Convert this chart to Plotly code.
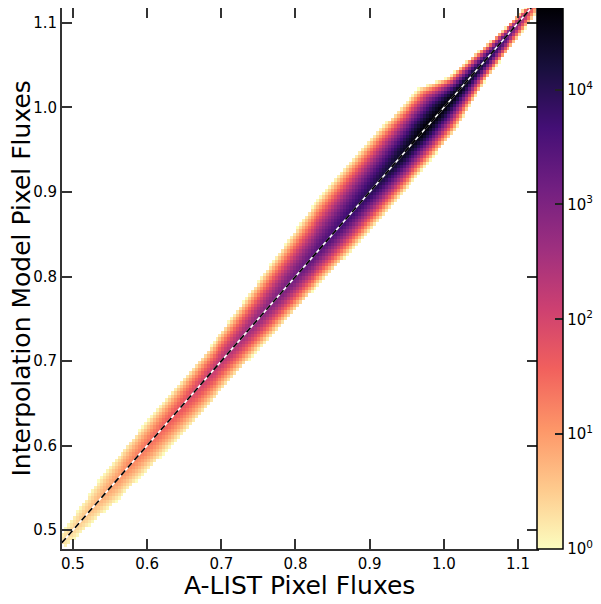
import numpy as np
import plotly.graph_objects as go

# anchors read along the 1:1 line (A-LIST flux)
diag_t = [0.485, 0.52, 0.55, 0.60, 0.65, 0.70, 0.75, 0.80, 0.85, 0.90, 0.94, 0.97, 0.995, 1.02, 1.045, 1.065, 1.09, 1.11, 1.125]
# log10 of the peak count on the ridge
peak_log = [0.3, 0.6, 0.9, 1.4, 1.8, 2.3, 2.8, 3.2, 3.6, 4.0, 4.4, 4.7, 4.7, 4.6, 4.3, 4.0, 3.4, 2.4, 1.2]
# half widths (model - A-LIST) where the count falls to 1
width_up = [0.010, 0.018, 0.025, 0.028, 0.030, 0.032, 0.040, 0.050, 0.060, 0.062, 0.062, 0.058, 0.056, 0.030, 0.024, 0.018, 0.012, 0.009, 0.006]
width_dn = [0.010, 0.018, 0.025, 0.032, 0.035, 0.035, 0.038, 0.040, 0.045, 0.046, 0.045, 0.044, 0.042, 0.032, 0.023, 0.020, 0.018, 0.015, 0.010]

flux_ticks = [0.5, 0.6, 0.7, 0.8, 0.9, 1.0, 1.1]
cbar_vals = [0, 1, 2, 3, 4]
cbar_text = ["10<sup>0</sup>", "10<sup>1</sup>", "10<sup>2</sup>", "10<sup>3</sup>", "10<sup>4</sup>"]
zmax = 4.71

xr = [0.4852, 1.1256]
yr = [0.4776, 1.1177]

edges = np.arange(0.476, 1.130, 0.004)
centers = (edges[:-1] + edges[1:]) / 2
X, Y = np.meshgrid(centers, centers)
T = (X + Y) / 2
D = Y - X
P = np.interp(T, diag_t, peak_log)
W = np.where(D >= 0, np.interp(T, diag_t, width_up), np.interp(T, diag_t, width_dn))
logc = P * (1 - (np.abs(D) / W) ** 1.5)
inside = (T >= diag_t[0]) & (T <= diag_t[-1]) & (logc >= 0)
Z = np.where(inside, logc, np.nan)

fig = go.Figure()
fig.add_trace(
    go.Heatmap(
        x=centers,
        y=centers,
        z=Z,
        colorscale="Magma",
        reversescale=True,
        zmin=0,
        zmax=zmax,
        hoverongaps=False,
        colorbar=dict(
            x=1.0,
            xanchor="left",
            xpad=0,
            y=0.5,
            yanchor="middle",
            ypad=0,
            len=1,
            thickness=26,
            outlinewidth=1.5,
            outlinecolor="black",
            tickvals=cbar_vals,
            ticktext=cbar_text,
            ticks="inside",
            ticklen=8,
            tickwidth=1.5,
            tickcolor="#222",
            tickfont=dict(family="DejaVu Sans", size=15, color="black"),
        ),
    )
)

line_x = [0.485, 1.118]
fig.add_trace(
    go.Scatter(x=line_x, y=line_x, mode="lines", line=dict(color="white", width=1.6),
               showlegend=False, hoverinfo="skip")
)
fig.add_trace(
    go.Scatter(x=line_x, y=line_x, mode="lines", line=dict(color="black", width=1.6, dash="6px,4px"),
               showlegend=False, hoverinfo="skip")
)

# minor ticks on the colorbar
shapes = []
for dec in range(0, 5):
    for m in range(2, 10):
        v = dec + np.log10(m)
        if v > zmax:
            continue
        shapes.append(dict(type="line", xref="paper", yref="paper",
                           x0=1 + 22 / 475, x1=1 + 26 / 475, y0=v / zmax, y1=v / zmax,
                           line=dict(color="#222", width=1)))

axis_style = dict(
    showline=True,
    linecolor="#333",
    linewidth=2,
    mirror="ticks",
    ticks="inside",
    ticklen=10,
    tickwidth=2,
    tickcolor="#333",
    showgrid=False,
    zeroline=False,
    automargin=False,
    tickformat=".1f",
    tickvals=flux_ticks,
    tickfont=dict(family="DejaVu Sans", size=15, color="black"),
)

title_font = dict(family="DejaVu Sans", size=25, color="black")

fig.update_layout(
    # page body has an 8px margin, so the figure is sized to fit the window
    width=593,
    height=596,
    margin=dict(l=54, r=64, t=0, b=55, autoexpand=False),
    paper_bgcolor="white",
    plot_bgcolor="white",
    showlegend=False,
    shapes=shapes,
    xaxis=dict(axis_style, range=xr),
    yaxis=dict(axis_style, range=yr),
    annotations=[
        dict(text="A-LIST Pixel Fluxes", xref="paper", yref="paper", x=0.5, y=0,
             xanchor="center", yanchor="top", yshift=-20, showarrow=False, font=title_font),
        dict(text="Interpolation Model Pixel Fluxes", xref="paper", yref="paper", x=0, y=0.5,
             xanchor="center", yanchor="middle", xshift=-41, textangle=-90,
             showarrow=False, font=title_font),
    ],
)

fig.write_html("out.html")
